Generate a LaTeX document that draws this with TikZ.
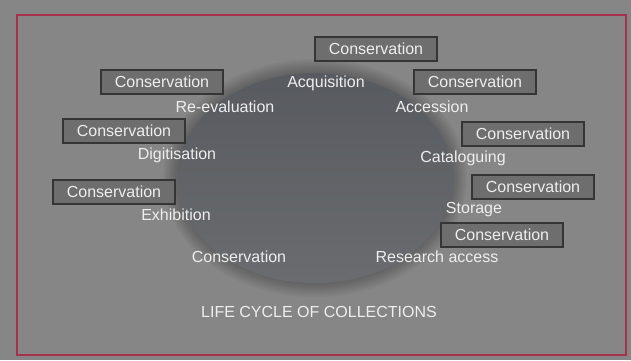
\documentclass[tikz,border=0pt]{standalone}
\usepackage{fontspec}
\setmainfont{Liberation Sans}
\definecolor{fond}{HTML}{868686}
\definecolor{cadre}{HTML}{A8304C}
\definecolor{boite}{HTML}{6E6E6E}
\definecolor{trait}{HTML}{353535}
\definecolor{texte}{HTML}{EEEEEE}
\definecolor{disqueh}{HTML}{575A5F}
\definecolor{disqueb}{HTML}{6A6C6F}
\begin{document}
\begin{tikzpicture}[x=0.5pt,y=-0.5pt]
\tikzstyle{conbox} = [draw=trait,line width=1pt,fill=boite,text=texte,minimum width=61pt,minimum height=12pt,inner sep=0pt,font=\fontsize{8}{9}\selectfont] %boites
\tikzstyle{etape} = [text=texte,inner sep=0pt,font=\fontsize{8}{9}\selectfont] %etapes

%fond et cadre
\fill[fond] (0,0) rectangle (631,360);
\useasboundingbox (0,0) rectangle (631,360);
\draw[cadre,line width=1.2pt] (17,15) rectangle (626,355);

%disque central
\foreach \r in {14,12,10,8,6,4,2}
  \fill[black,opacity=0.035] (315,178) ellipse ({138+\r} and {105+\r});
\shade[top color=disqueh,bottom color=disqueb] (315,178) ellipse (138 and 105);

%boites
\node[conbox] (c1) at (376,49) {Conservation};
\node[conbox] (c2) at (162,82) {Conservation};
\node[conbox] (c3) at (475,82) {Conservation};
\node[conbox] (c4) at (124,131) {Conservation};
\node[conbox] (c5) at (523,134) {Conservation};
\node[conbox] (c6) at (114,192) {Conservation};
\node[conbox] (c7) at (533,187) {Conservation};
\node[conbox] (c8) at (502,235) {Conservation};

%etapes du cycle
\node[etape] (acq) at (326,83) {Acquisition};
\node[etape] (acc) at (432,107) {Accession};
\node[etape] (rev) at (225,107) {Re-evaluation};
\node[etape] (dig) at (177,155) {Digitisation};
\node[etape] (cat) at (463,158) {Cataloguing};
\node[etape] (exh) at (176,215) {Exhibition};
\node[etape] (sto) at (474,210) {Storage};
\node[etape] (con) at (239,257) {Conservation};
\node[etape] (res) at (437,257) {Research access};

%titre
\node[etape] (titre) at (319,312) {LIFE CYCLE OF COLLECTIONS};
\end{tikzpicture}
\end{document}
